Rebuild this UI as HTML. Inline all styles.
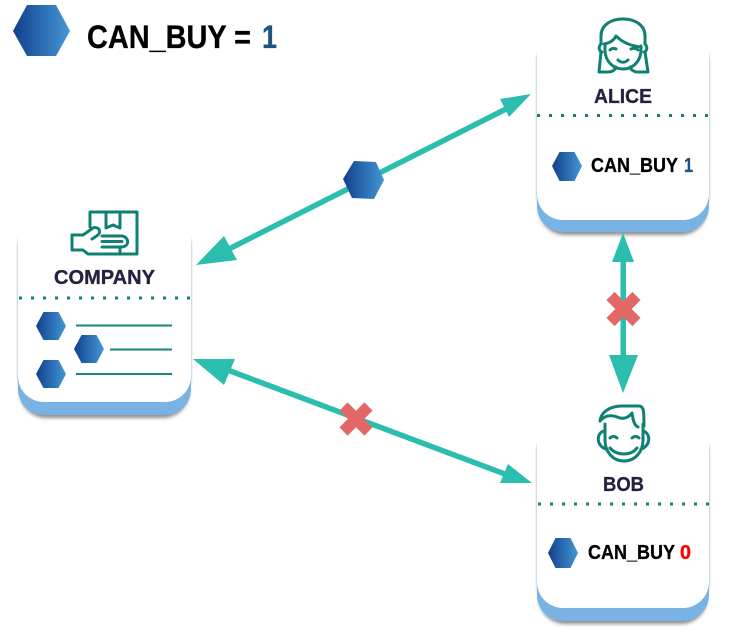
<!DOCTYPE html>
<html><head><meta charset="utf-8"><style>
html,body{margin:0;padding:0;background:#fff}
svg{display:block}
text{font-family:"Liberation Sans",sans-serif;font-weight:bold;stroke-width:.3}
</style></head><body>
<svg xmlns="http://www.w3.org/2000/svg" width="734" height="633" viewBox="0 0 734 633">
<defs>
<linearGradient id="h" x1="0" x2="1" y1="0" y2="0"><stop offset="0" stop-color="#123f8d"/><stop offset="1" stop-color="#4497d5"/></linearGradient>
<linearGradient id="f" x1="0" x2="0" y1="0" y2="1"><stop offset="0" stop-color="#fff"/><stop offset="1" stop-color="#fff" stop-opacity="0"/></linearGradient>
<filter id="b" x="-20%" y="-20%" width="140%" height="140%"><feGaussianBlur stdDeviation="1.800"/></filter>
<filter id="s" x="-20%" y="-20%" width="140%" height="140%"><feGaussianBlur stdDeviation=".8"/></filter>
</defs>

<!-- Alice card -->
<rect x="539" y="40" width="168" height="195" rx="26" fill="#444" opacity=".6" filter="url(#b)"/>
<rect x="536" y="35" width="174" height="185" rx="26" fill="#b4c6d4" opacity=".75" filter="url(#s)"/>
<rect x="537" y="130" width="172" height="102" rx="26" fill="#78b3e3"/>
<rect x="537" y="10" width="172" height="210" rx="26" fill="#fff"/>
<rect x="530" y="5" width="186" height="50" fill="url(#f)"/>

<!-- Company card -->
<rect x="20" y="225" width="169" height="193" rx="26" fill="#444" opacity=".6" filter="url(#b)"/>
<rect x="17" y="220" width="175" height="182" rx="26" fill="#b4c6d4" opacity=".75" filter="url(#s)"/>
<rect x="18" y="310" width="173" height="105" rx="26" fill="#78b3e3"/>
<rect x="18" y="195" width="173" height="207" rx="26" fill="#fff"/>
<rect x="10" y="190" width="190" height="50" fill="url(#f)"/>

<!-- Bob card -->
<rect x="539" y="430" width="168" height="194" rx="26" fill="#444" opacity=".6" filter="url(#b)"/>
<rect x="536" y="425" width="174" height="183" rx="26" fill="#b4c6d4" opacity=".75" filter="url(#s)"/>
<rect x="537" y="520" width="172" height="101" rx="26" fill="#78b3e3"/>
<rect x="537" y="398" width="172" height="210" rx="26" fill="#fff"/>
<rect x="530" y="394" width="186" height="40" fill="url(#f)"/>

<!-- Dotted separators -->
<g stroke="#0f8173" stroke-width="3" stroke-dasharray="3 9" fill="none">
<line x1="537" y1="115.5" x2="709" y2="115.5"/>
<line x1="19" y1="298" x2="191" y2="298"/>
<line x1="538" y1="504" x2="710" y2="504"/>
</g>

<!-- Arrows -->
<g fill="#2bbdad" stroke="none">
<line x1="225" y1="251" x2="510" y2="107" stroke="#2bbdad" stroke-width="5.5"/>
<polygon points="531,94 500,99 509,117"/>
<polygon points="196,265 224,236 237,260"/>
<line x1="225" y1="369" x2="510" y2="476" stroke="#2bbdad" stroke-width="5.5"/>
<polygon points="193,359 235,359 224,385"/>
<polygon points="532,483 508,464 500,483"/>
<rect x="620.5" y="258" width="5.5" height="100"/>
<polygon points="623,233 612,262 634,262"/>
<polygon points="623,393 609,355 638,355"/>
</g>

<!-- Red crosses -->
<g stroke="#e26868" stroke-width="11.5" fill="none">
<path d="M610.500 296L636.500 322M636.500 296L610.500 322"/>
<path d="M343.500 406.500L368.500 431.500M368.500 406.500L343.500 431.500"/>
</g>

<!-- Hexagons -->
<g fill="url(#h)">
<polygon points="13,31 27,5 56,5 70,31 56,56 27,56"/>
<polygon points="343,179 354,161 376,162 384,180 374,199 352,198"/>
<polygon points="552,166 559.500,152 574.500,152 582,166 574.500,181 559.500,181"/>
<polygon points="548,553 555.500,538 570.500,538 578,553 570.500,568 555.500,568"/>
<polygon points="36,326 43.500,312 58.500,312 66,326 58.500,340 43.500,340"/>
<polygon points="74,349 81.500,335 96.500,335 104,349 96.500,363 81.500,363"/>
<polygon points="36,374 43.500,360 58.500,360 66,374 58.500,388 43.500,388"/>
</g>

<!-- Company list lines -->
<g stroke="#16877a" stroke-width="2" fill="none">
<line x1="76" y1="325.500" x2="172" y2="325.500"/>
<line x1="110" y1="349.500" x2="172" y2="349.500"/>
<line x1="76" y1="374" x2="172" y2="374"/>
</g>

<!-- Alice icon -->
<g fill="none" stroke="#0f8173" stroke-width="3" stroke-linecap="round" stroke-linejoin="round">
<path d="M601 44V36C601 25 611 19 623 19C635 19 645 25 645 36V44"/>
<path d="M601 44C598 47 599 51 602 52M645 44C648 47 647 51 644 52"/>
<path d="M605 44V50C605 61 613 69 623 69C633 69 641 61 641 50V46"/>
<path d="M604 44C610 43 614 40 616 36C622 42 631 46 641 47"/>
<path d="M601 52L599 72H608C612 72 615 70 616 67M645 52L648 72H638C634 72 631 70 630 67"/>
<path d="M610 50C612 48 614 48 616 49M631 49C633 48 636 48 638 50"/>
<path d="M618 60C621 63 625 63 628 60"/>
</g>

<!-- Bob icon -->
<g fill="none" stroke="#0f8173" stroke-width="3" stroke-linecap="round" stroke-linejoin="round">
<path d="M604 431C596 433 596 446 606 449"/>
<path d="M643 431C651 433 651 446 641 449"/>
<path d="M605 424V440C605 452 613 461 624 461C635 461 643 452 643 440V424"/>
<path d="M600 421C601 412 610 406 622 406H639C644 406 644 412 644 426"/>
<path d="M600 421C606 414 613 415 620 418C625 419 629 417 632 413C633 420 634 425 638 427"/>
<path d="M610 438C612 436 615 436 617 438M632 438C634 436 637 436 639 438"/>
<path d="M610 448C617 456 631 456 637 448"/>
</g>

<!-- Company icon -->
<g fill="none" stroke="#0f8173" stroke-width="3" stroke-linecap="round" stroke-linejoin="round">
<path d="M90 227V212H137V254H120"/>
<path d="M106 212V228L113 225L120 228V212"/>
<path d="M72 235V250H83L88 254H120V247"/>
<path d="M72 235H83L93 228C98 226 102 231 98 235L92 239"/>
<path d="M102 236H122C129 237 130 246 122 247H102M102 241.500H122"/>
</g>

<!-- Labels -->
<text x="87" y="48" font-size="32" textLength="164" lengthAdjust="spacingAndGlyphs" fill="#000" stroke="#000">CAN_BUY =</text>
<text x="262" y="48" font-size="32" textLength="15" lengthAdjust="spacingAndGlyphs" fill="#1d5480" stroke="#1d5480">1</text>

<text x="594" y="103" font-size="20" textLength="58" lengthAdjust="spacingAndGlyphs" fill="#24223f" stroke="#24223f">ALICE</text>
<text x="54" y="284" font-size="20" textLength="101" lengthAdjust="spacingAndGlyphs" fill="#24223f" stroke="#24223f">COMPANY</text>
<text x="603" y="491" font-size="20" textLength="41" lengthAdjust="spacingAndGlyphs" fill="#24223f" stroke="#24223f">BOB</text>

<text x="591" y="172" font-size="20" textLength="87" lengthAdjust="spacingAndGlyphs" fill="#000" stroke="#000">CAN_BUY</text>
<text x="684" y="172" font-size="20" textLength="9" lengthAdjust="spacingAndGlyphs" fill="#1d5480" stroke="#1d5480">1</text>
<text x="588" y="559" font-size="20" textLength="87" lengthAdjust="spacingAndGlyphs" fill="#000" stroke="#000">CAN_BUY</text>
<text x="680" y="559" font-size="20" textLength="11" lengthAdjust="spacingAndGlyphs" fill="#ff0000" stroke="#ff0000">0</text>
</svg>
</body></html>
